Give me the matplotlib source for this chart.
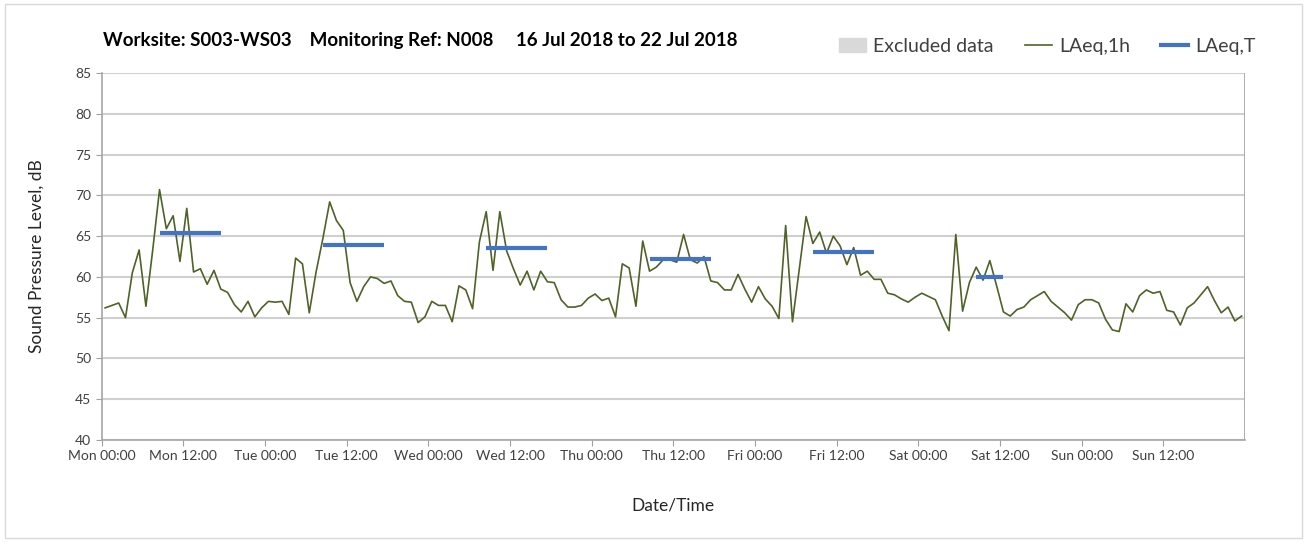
import numpy as np
import matplotlib
matplotlib.use('Agg')
import matplotlib.pyplot as plt
from matplotlib.patches import Patch, Rectangle
from matplotlib.lines import Line2D

plt.rcParams['font.family'] = ['Lato', 'DejaVu Sans']

# hourly LAeq,1h values, one list per day (00:00 .. 23:00)
mon = [56.2, 56.5, 56.8, 55.0, 60.5, 63.3, 56.4, 63.3, 70.7, 65.9, 67.5, 61.9,
       68.4, 60.6, 61.0, 59.1, 60.8, 58.5, 58.1, 56.6, 55.7, 57.0, 55.1, 56.2]
tue = [57.0, 56.9, 57.0, 55.4, 62.3, 61.6, 55.6, 60.6, 64.7, 69.2, 66.9, 65.7,
       59.3, 57.0, 58.8, 60.0, 59.8, 59.2, 59.5, 57.7, 57.0, 56.9, 54.4, 55.1]
wed = [57.0, 56.5, 56.5, 54.5, 58.9, 58.4, 56.1, 64.3, 68.0, 60.8, 68.0, 63.2,
       61.0, 59.0, 60.7, 58.4, 60.7, 59.4, 59.3, 57.2, 56.3, 56.3, 56.5, 57.4]
thu = [57.9, 57.1, 57.4, 55.1, 61.6, 61.1, 56.4, 64.4, 60.7, 61.2, 62.1, 62.1,
       61.8, 65.2, 62.1, 61.7, 62.5, 59.5, 59.3, 58.4, 58.4, 60.3, 58.5, 56.9]
fri = [58.8, 57.3, 56.4, 54.9, 66.3, 54.5, 60.9, 67.4, 64.1, 65.5, 62.9, 65.0,
       63.8, 61.5, 63.6, 60.2, 60.7, 59.7, 59.7, 58.0, 57.8, 57.3, 56.9, 57.5]
sat = [58.0, 57.6, 57.2, 55.2, 53.4, 65.2, 55.8, 59.3, 61.2, 59.6, 62.0, 58.9,
       55.7, 55.2, 56.0, 56.3, 57.2, 57.7, 58.2, 57.0, 56.3, 55.6, 54.7, 56.6]
sun = [57.2, 57.2, 56.8, 54.8, 53.5, 53.3, 56.7, 55.7, 57.7, 58.4, 58.0, 58.2,
       55.9, 55.7, 54.1, 56.2, 56.8, 57.8, 58.8, 57.1, 55.6, 56.3, 54.6, 55.2]

# LAeq,T periods: (day index, start hour, end hour, level)
laeqT_day = [0, 1, 2, 3, 4, 5]
laeqT_start = [8, 8, 8, 8, 8, 8]
laeqT_end = [18, 18, 18, 18, 18, 13]
laeqT_val = [65.4, 63.9, 63.5, 62.2, 63.1, 60.0]

day_names = ['Mon', 'Tue', 'Wed', 'Thu', 'Fri', 'Sat', 'Sun']

laeq1h = np.array(mon + tue + wed + thu + fri + sat + sun)
t = np.arange(len(laeq1h)) + 0.5   # hourly values plotted mid-hour

fig = plt.figure(figsize=(13.07, 5.42), dpi=100)
ax = fig.add_axes([0.0778, 0.1882, 0.8748, 0.6771])

ax.plot(t, laeq1h, color='#4F6228', lw=1.2, zorder=3)
for d, s, e, v in zip(laeqT_day, laeqT_start, laeqT_end, laeqT_val):
    ax.plot([d * 24 + s + 0.5, d * 24 + e - 0.5], [v, v], color='#4472C4', lw=3,
            solid_capstyle='butt', zorder=4)

ax.set_xlim(0, 168)
ax.set_ylim(40, 85)
ax.set_yticks(np.arange(40, 86, 5))
ax.set_xticks(np.arange(0, 168, 12))
ax.set_xticklabels([f'{day_names[i // 2]} {"00" if i % 2 == 0 else "12"}:00'
                    for i in range(14)])
ax.set_xticks(np.arange(0, 169, 24), minor=True)
ax.grid(axis='y', color='#D0D0D0', lw=1.5)
ax.grid(axis='x', which='minor', color='#D9D9D9', lw=1.5)
ax.tick_params(axis='x', which='minor', length=0)
ax.tick_params(axis='both', which='major', labelsize=10, colors='#404040',
               length=4, color='#A0A0A0')
for sp in ['top', 'right']:
    ax.spines[sp].set_visible(False)
ax.axvline(168, color='#A6A6A6', lw=1.2)
ax.spines['left'].set_color('#A6A6A6')
ax.spines['bottom'].set_color('#A6A6A6')
ax.spines['left'].set_linewidth(1.2)
ax.spines['bottom'].set_linewidth(1.2)

ax.set_ylabel('Sound Pressure Level, dB', fontsize=12.5, color='#262626', labelpad=22)
ax.set_xlabel('Date/Time', fontsize=12.5, color='#262626', labelpad=25)

fig.text(0.0788, 0.926,
         'Worksite: S003-WS03    Monitoring Ref: N008     16 Jul 2018 to 22 Jul 2018',
         fontsize=13.5, fontweight='bold', color='#000000', va='center')

handles = [Patch(color='#D9D9D9'),
           Line2D([], [], color='#4F6228', lw=1.2),
           Line2D([], [], color='#4472C4', lw=3)]
fig.legend(handles, ['Excluded data', 'LAeq,1h', 'LAeq,T'], ncol=3, frameon=False,
           loc='center right', bbox_to_anchor=(0.974, 0.915), fontsize=14,
           handlelength=1.4, handleheight=0.7, columnspacing=1.6, handletextpad=0.36,
           labelcolor='#404040')

fig.patches.append(Rectangle((0.004, 0.007), 0.992, 0.985, transform=fig.transFigure,
                             fill=False, edgecolor='#D9D9D9', lw=1))

fig.savefig('out.png', dpi=100)
